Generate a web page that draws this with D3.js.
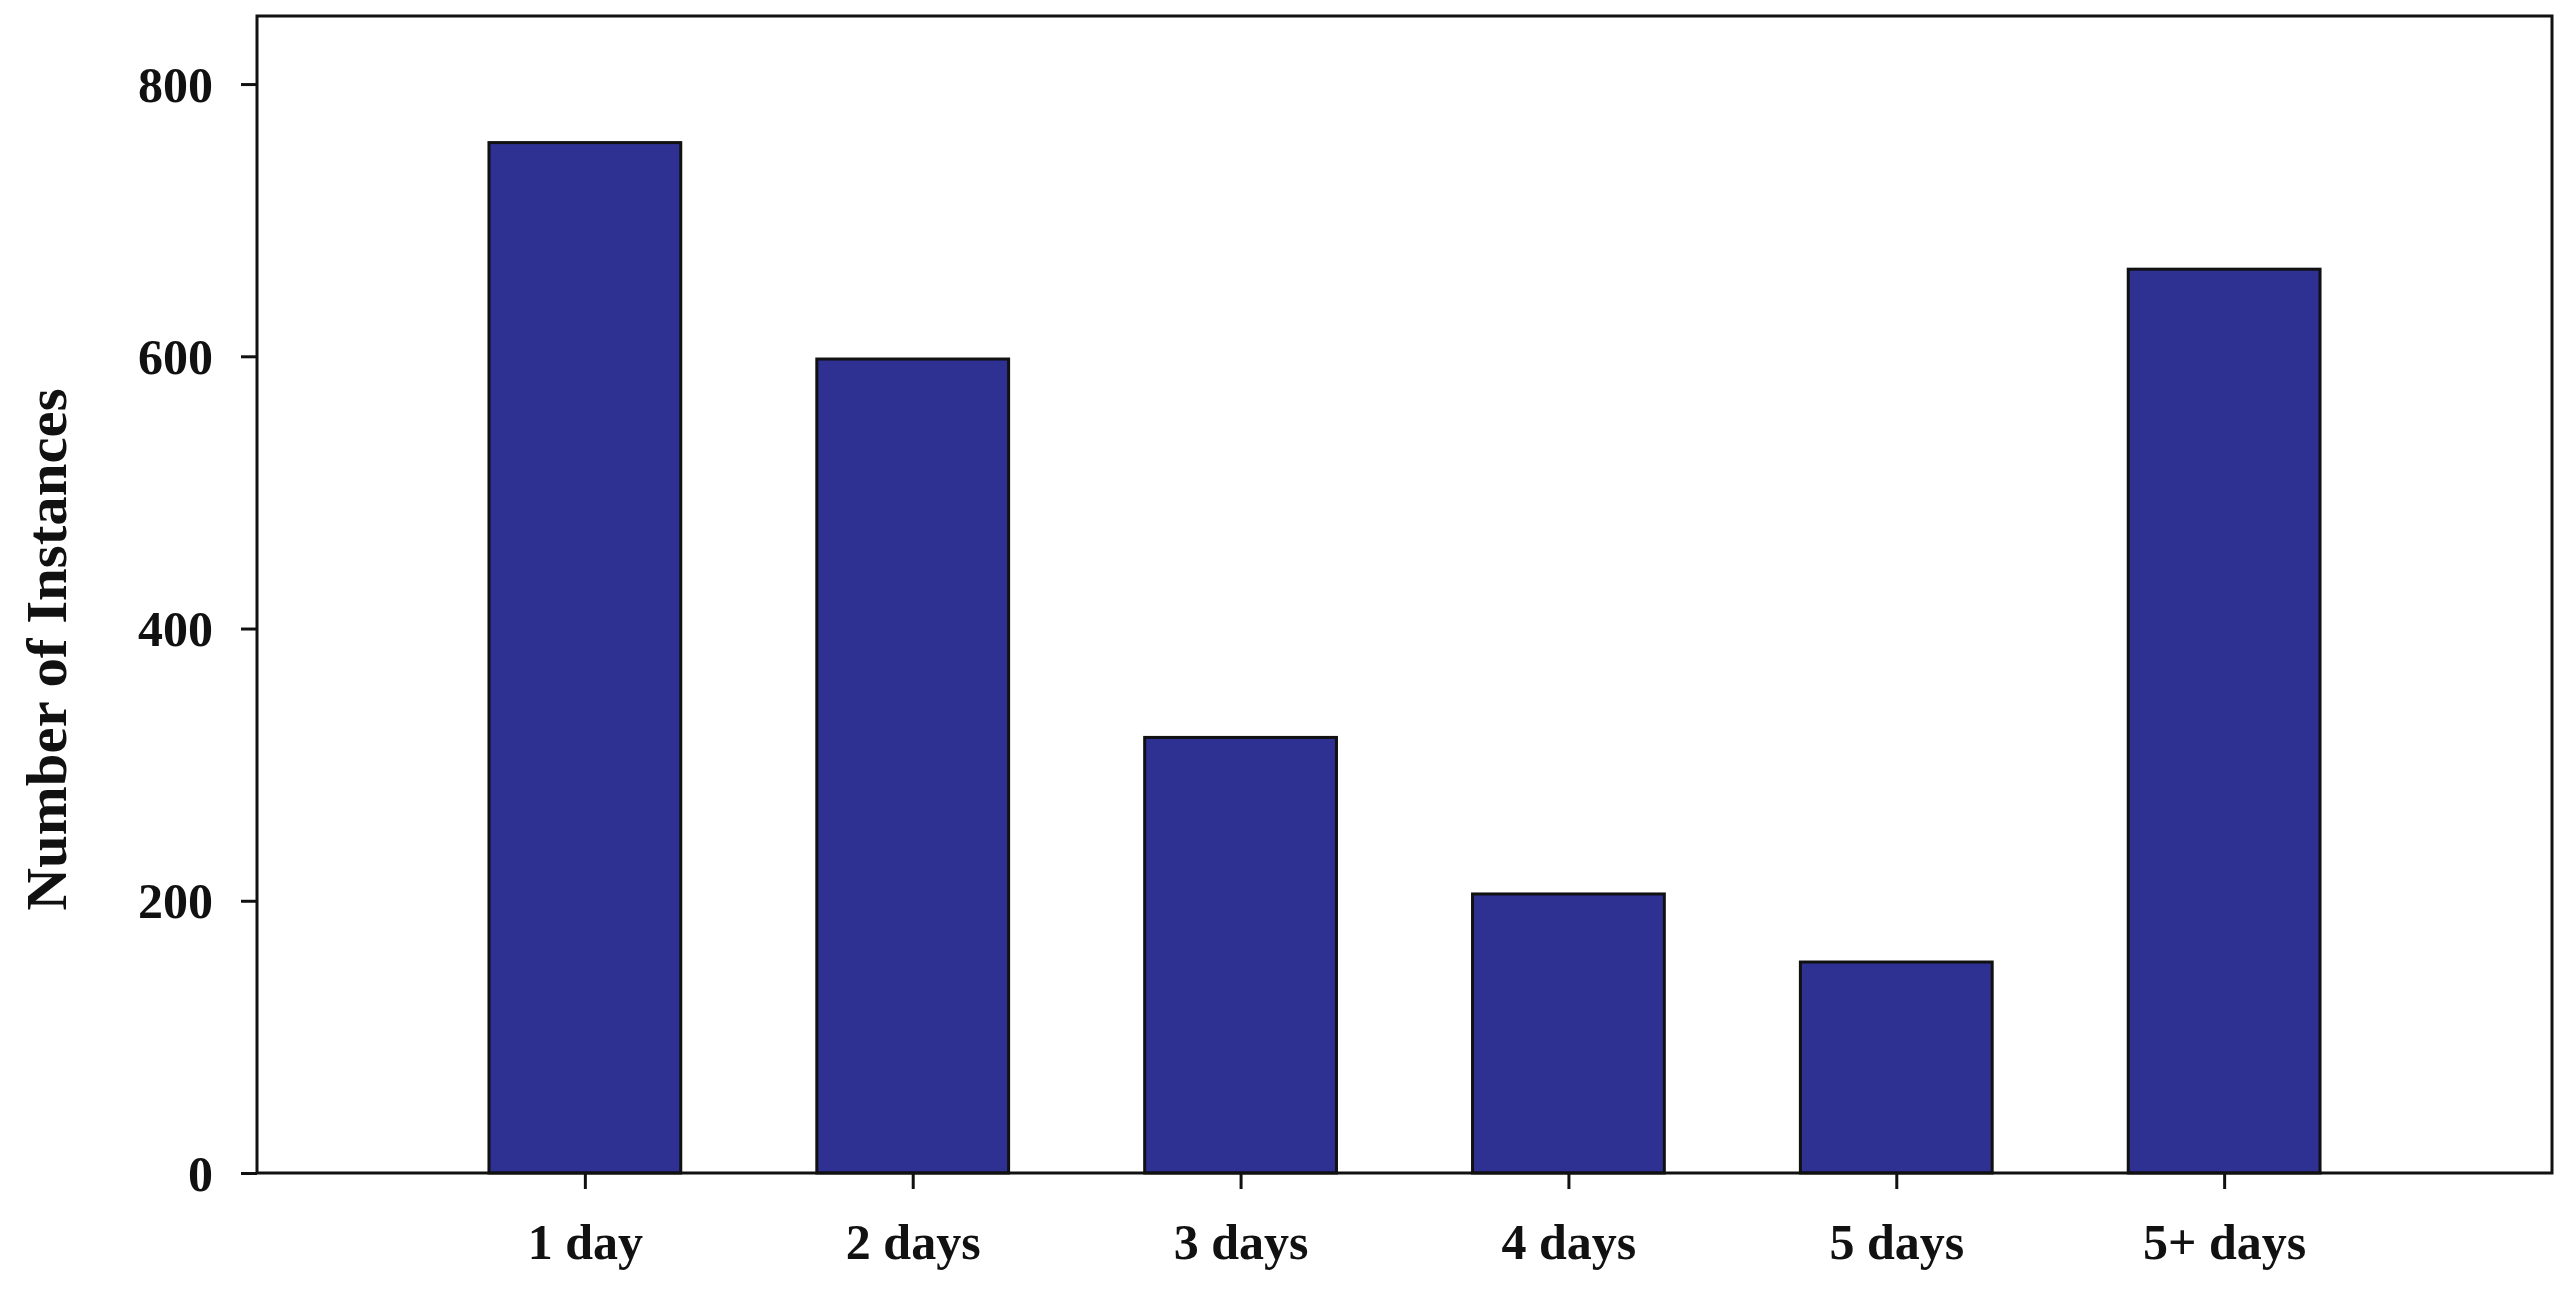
<!DOCTYPE html>
<html><head><meta charset="utf-8">
<script src="https://cdn.jsdelivr.net/npm/d3@7"></script>
<style>body{margin:0;background:#fff}text{font-family:"Liberation Serif","Times New Roman",serif;font-weight:bold;fill:#111}</style>
</head><body><svg id="c" width="2571" height="1301"></svg>
<script>
const categories = ["1 day","2 days","3 days","4 days","5 days","5+ days"];
const values = [757, 598, 320, 205, 155, 664];
const yTicks = [0,200,400,600,800];

const svg = d3.select("#c");
const L=257, R=2552, T=16, B=1173;
const x = d3.scalePoint().domain(categories).range([L,R]).padding(1);
const y = d3.scaleLinear().domain([0,850]).range([B,T]);
const bw = x.step()*0.585;

svg.selectAll("rect.bar").data(values).join("rect")
  .attr("x",(d,i)=>x(categories[i])-bw/2).attr("y",d=>y(d))
  .attr("width",bw).attr("height",d=>B-y(d))
  .attr("fill","#2e3192").attr("stroke","#111").attr("stroke-width",3);

svg.append("rect").attr("x",L).attr("y",T).attr("width",R-L).attr("height",B-T)
  .attr("fill","none").attr("stroke","#111").attr("stroke-width",3);

const ya = svg.append("g").attr("transform",`translate(${L},0)`)
  .call(d3.axisLeft(y).tickValues(yTicks).tickSize(16).tickPadding(28));
const xa = svg.append("g").attr("transform",`translate(0,${B})`)
  .call(d3.axisBottom(x).tickSize(16).tickPadding(34));
[ya,xa].forEach(a=>{a.select(".domain").remove();
  a.selectAll("line").attr("stroke","#111").attr("stroke-width",3);
  a.selectAll("text").style("font-size","50px").style("font-family","Liberation Serif").style("font-weight","bold").attr("fill","#111");});
ya.selectAll("text").attr("dy","0.34em");

svg.append("text").attr("transform",`translate(66,${(237+555)/2*1.64}) rotate(-90)`)
  .attr("text-anchor","middle").style("font-size","56px")
  .attr("textLength",522).attr("lengthAdjust","spacingAndGlyphs")
  .text("Number of Instances");
</script></body></html>
